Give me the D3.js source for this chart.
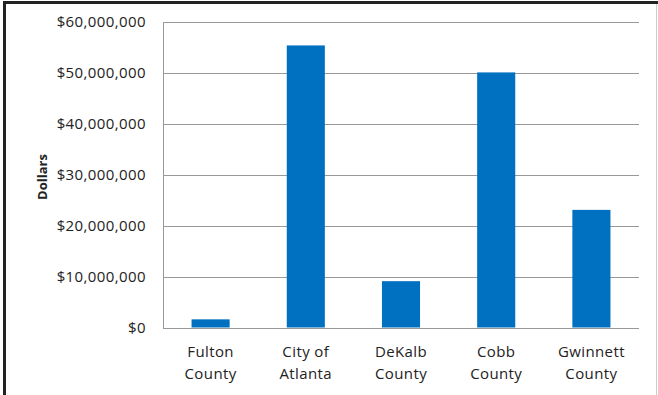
<!DOCTYPE html>
<html>
<head>
<meta charset="utf-8">
<script src="https://cdn.jsdelivr.net/npm/d3@7"></script>
<style>
  body { margin: 0; background: #fff; }
  svg text { font-family: "Open Sans", "Noto Sans", sans-serif; fill: #222; }
</style>
</head>
<body>
<div id="chart"></div>
<script>
const categories = [["Fulton", "County"], ["City of", "Atlanta"], ["DeKalb", "County"], ["Cobb", "County"], ["Gwinnett", "County"]];
const values = [1600000, 55400000, 9100000, 50100000, 23100000];
const yTicks = [0, 10000000, 20000000, 30000000, 40000000, 50000000, 60000000];

const W = 658, H = 395;
const margin = { left: 163, right: 19, top: 22, bottom: 67.5 };

const svg = d3.select("#chart").append("svg")
    .attr("width", W)
    .attr("height", H);

// outer frame
svg.append("rect")
    .attr("x", 0).attr("y", 0).attr("width", W).attr("height", H)
    .attr("fill", "#fff");
svg.append("line").attr("x1", 656.5).attr("x2", 656.5).attr("y1", 3).attr("y2", H)
    .attr("stroke", "#ccc").attr("stroke-width", 1);
svg.append("line").attr("x1", 3).attr("x2", 658).attr("y1", 2.5).attr("y2", 2.5)
    .attr("stroke", "#222").attr("stroke-width", 3);
svg.append("line").attr("x1", 4.5).attr("x2", 4.5).attr("y1", 1).attr("y2", H)
    .attr("stroke", "#222").attr("stroke-width", 3);

const x = d3.scaleBand()
    .domain(categories.map(d => d.join(" ")))
    .range([margin.left, W - margin.right])
    .paddingInner(0.6)
    .paddingOuter(0.3);

const y = d3.scaleLinear()
    .domain([0, 60000000])
    .range([H - margin.bottom, margin.top]);

// gridlines
svg.append("g")
    .selectAll("line")
    .data(yTicks)
    .enter()
    .append("line")
    .attr("x1", margin.left)
    .attr("x2", W - margin.right)
    .attr("y1", d => Math.round(y(d)) + 0.5)
    .attr("y2", d => Math.round(y(d)) + 0.5)
    .attr("stroke", "#999")
    .attr("stroke-width", 1);

// left axis line
svg.append("line")
    .attr("x1", margin.left + 0.5).attr("x2", margin.left + 0.5)
    .attr("y1", y(60000000)).attr("y2", Math.round(y(0)) + 1)
    .attr("stroke", "#999");

// y tick labels
const fmt = d3.format("$,");
svg.append("g")
    .selectAll("text")
    .data(yTicks)
    .enter()
    .append("text")
    .attr("x", 146)
    .attr("y", d => y(d))
    .attr("dy", "0.35em")
    .attr("text-anchor", "end")
    .style("font-size", "15px")
    .style("letter-spacing", "0.4px")
    .text(d => fmt(d));

// bars
svg.append("g")
    .selectAll("rect")
    .data(values)
    .enter()
    .append("rect")
    .attr("x", (d, i) => x(categories[i].join(" ")))
    .attr("width", x.bandwidth())
    .attr("y", d => y(d))
    .attr("height", d => y(0) - y(d))
    .attr("fill", "#0070C0");

// category labels
const cat = svg.append("g")
    .selectAll("text")
    .data(categories)
    .enter()
    .append("text")
    .attr("text-anchor", "middle")
    .style("font-size", "15px")
    .style("letter-spacing", "0.4px");
cat.append("tspan")
    .attr("x", d => x(d.join(" ")) + x.bandwidth() / 2)
    .attr("y", 357)
    .text(d => d[0]);
cat.append("tspan")
    .attr("x", d => x(d.join(" ")) + x.bandwidth() / 2)
    .attr("y", 379)
    .text(d => d[1]);

// y axis title
svg.append("text")
    .attr("transform", "translate(47,177) rotate(-90)")
    .attr("text-anchor", "middle")
    .style("font-size", "13px")
    .style("font-weight", "bold")
    .text("Dollars");
</script>
</body>
</html>
